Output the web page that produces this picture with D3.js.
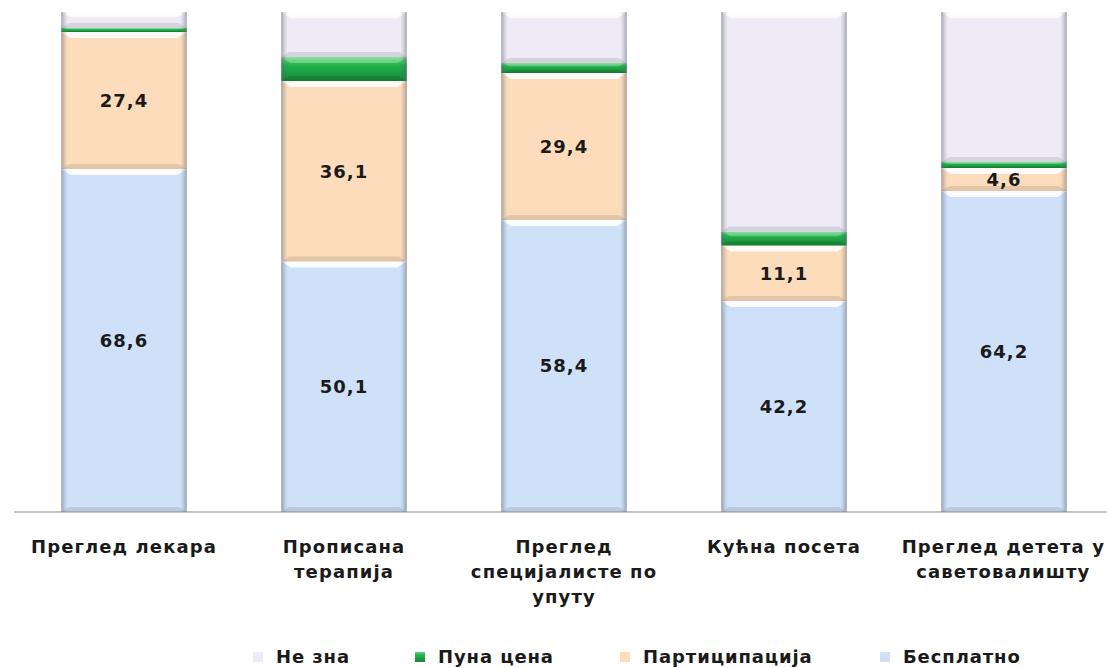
<!DOCTYPE html>
<html>
<head>
<meta charset="utf-8">
<script src="https://cdn.jsdelivr.net/npm/d3@7"></script>
<style>
  body { margin: 0; background: #fff; }
  text { font-family: "DejaVu Sans", Verdana, sans-serif; font-weight: bold; fill: #1a1a1a; }
</style>
</head>
<body>
<script>
const categories = [
    'Преглед лекара', 'Прописана\nтерапија', 'Преглед\nспецијалисте по\nупуту',
    'Кућна посета', 'Преглед детета у\nсаветовалишту'
];
const series = ['Бесплатно', 'Партиципација', 'Пуна цена', 'Не зна'];
const besplatno = [68.6, 50.1, 58.4, 42.2, 64.2];
const participacija = [27.4, 36.1, 29.4, 11.1, 4.6];
const punaCena = [0.8, 4.8, 2.0, 2.8, 1.2];
const neZna = [3.2, 9.0, 10.2, 43.9, 30.0];
const legendOrder = ['Не зна', 'Пуна цена', 'Партиципација', 'Бесплатно'];

const colors = {
    'Бесплатно': '#cfe1f8',
    'Партиципација': '#fddcbc',
    'Пуна цена': '#1f9e45',
    'Не зна': '#eeeaf6'
};

const width = 1107, height = 668;
const rows = categories.map((c, i) => ({
    cat: c,
    'Бесплатно': besplatno[i],
    'Партиципација': participacija[i],
    'Пуна цена': punaCena[i],
    'Не зна': neZna[i]
}));

const svg = d3.select("body").append("svg")
    .attr("width", width)
    .attr("height", height);

const defs = svg.append("defs");
// side shading for the bevelled look
const side = defs.append("linearGradient").attr("id", "side").attr("x1", 0).attr("x2", 1).attr("y1", 0).attr("y2", 0);
[[0, 0.55], [0.018, 0.25], [0.05, 0.0], [0.95, 0.0], [0.982, 0.25], [1, 0.55]].forEach(s => {
    side.append("stop").attr("offset", s[0]).attr("stop-color", "#5a6070").attr("stop-opacity", s[1]);
});
const greenGrad = defs.append("linearGradient").attr("id", "greenV").attr("x1", 0).attr("x2", 0).attr("y1", 0).attr("y2", 1);
greenGrad.append("stop").attr("offset", 0).attr("stop-color", "#5fd57f");
greenGrad.append("stop").attr("offset", 0.35).attr("stop-color", "#22b04c");
greenGrad.append("stop").attr("offset", 1).attr("stop-color", "#178a38");

const x = d3.scaleBand()
    .domain(categories)
    .range([14, 1114])
    .paddingInner(0.43)
    .paddingOuter(0.215);

const y = d3.scaleLinear()
    .domain([0, 100])
    .range([512, 12]);

const stacked = d3.stack().keys(series)(rows);

const layers = svg.selectAll("g.layer")
    .data(stacked)
    .enter().append("g")
    .attr("class", "layer");

const segs = layers.selectAll("g.seg")
    .data(layer => layer.map(d => ({ key: layer.key, d: d })))
    .enter().append("g")
    .attr("class", "seg");

segs.append("rect")
    .attr("x", s => x(s.d.data.cat))
    .attr("y", s => y(s.d[1]))
    .attr("width", x.bandwidth())
    .attr("height", s => y(s.d[0]) - y(s.d[1]))
    .attr("fill", s => s.key === 'Пуна цена' ? 'url(#greenV)' : colors[s.key]);

// bottom shade of each segment
segs.append("path")
    .attr("d", s => {
        const x0 = x(s.d.data.cat), x1 = x0 + x.bandwidth();
        const yb = y(s.d[0]), h = Math.min(5, (y(s.d[0]) - y(s.d[1])) / 3);
        return `M${x0},${yb}L${x1},${yb}L${x1 - 8},${yb - h}L${x0 + 8},${yb - h}Z`;
    })
    .attr("fill", "#000")
    .attr("opacity", 0.1);

// top highlight bevel of each segment
segs.append("path")
    .attr("d", s => {
        const x0 = x(s.d.data.cat), x1 = x0 + x.bandwidth();
        const yt = y(s.d[1]), h = Math.min(6, (y(s.d[0]) - y(s.d[1])) / 3);
        return `M${x0},${yt}L${x1},${yt}L${x1 - 9},${yt + h}L${x0 + 9},${yt + h}Z`;
    })
    .attr("fill", "#fff")
    .attr("opacity", s => s.key === 'Пуна цена' ? 0.25 : 0.9);

segs.append("rect")
    .attr("x", s => x(s.d.data.cat))
    .attr("y", s => y(s.d[1]))
    .attr("width", x.bandwidth())
    .attr("height", s => y(s.d[0]) - y(s.d[1]))
    .attr("fill", "url(#side)");

// value labels
segs.filter(s => s.key === 'Бесплатно' || s.key === 'Партиципација')
    .append("text")
    .attr("x", s => x(s.d.data.cat) + x.bandwidth() / 2)
    .attr("y", s => (y(s.d[0]) + y(s.d[1])) / 2)
    .attr("dy", "0.36em")
    .attr("text-anchor", "middle")
    .style("font-size", "18px")
    .style("letter-spacing", "1px")
    .text(s => d3.format(".1f")(s.d[1] - s.d[0]).replace(".", ","));

// axis line
svg.append("line")
    .attr("x1", 14).attr("x2", width)
    .attr("y1", y(0)).attr("y2", y(0))
    .attr("stroke", "#8c8c8c")
    .attr("stroke-width", 1.2);

// category labels
const catLabels = svg.selectAll("text.cat")
    .data(categories)
    .enter().append("text")
    .attr("class", "cat")
    .attr("text-anchor", "middle")
    .attr("x", d => x(d) + x.bandwidth() / 2)
    .attr("y", 553)
    .style("font-size", "18px")
    .style("letter-spacing", "1.1px");

catLabels.selectAll("tspan")
    .data(d => d.split("\n").map(t => ({ t: t, c: d })))
    .enter().append("tspan")
    .attr("x", o => x(o.c) + x.bandwidth() / 2)
    .attr("dy", (o, i) => i === 0 ? 0 : 25)
    .text(o => o.t);

// keep labels inside the window
catLabels.each(function () {
    const b = this.getBBox();
    if (b.x + b.width > width - 2) {
        const shift = b.x + b.width - (width - 2);
        d3.select(this).selectAll("tspan").attr("x", function () { return +d3.select(this).attr("x") - shift; });
    }
});

// legend
const legendX = [253, 415, 620, 880];
const legend = svg.append("g").attr("class", "legend");
const items = legend.selectAll("g")
    .data(legendOrder)
    .enter().append("g")
    .attr("transform", (d, i) => `translate(${legendX[i]},657)`);

items.append("rect")
    .attr("x", 0).attr("y", -5)
    .attr("width", 10).attr("height", 10)
    .attr("fill", d => d === 'Пуна цена' ? 'url(#greenV)' : colors[d]);
items.append("rect")
    .attr("x", 0).attr("y", -5)
    .attr("width", 10).attr("height", 10)
    .attr("fill", "url(#side)");

items.append("text")
    .attr("x", 23)
    .attr("y", 0)
    .attr("dy", "0.36em")
    .style("font-size", "18px")
    .style("letter-spacing", "0.9px")
    .text(d => d);
</script>
</body>
</html>
